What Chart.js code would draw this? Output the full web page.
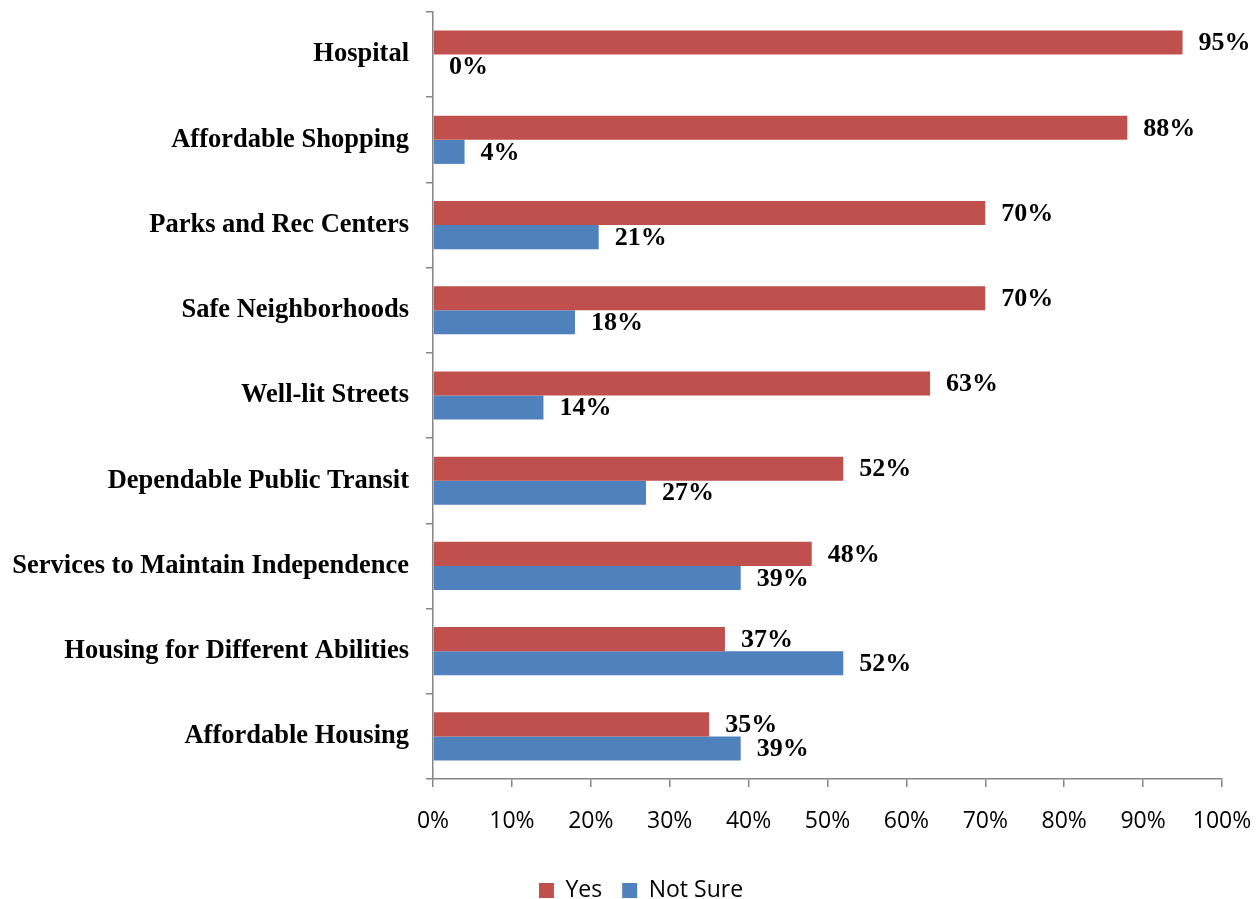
<!DOCTYPE html>
<html>
<head>
<meta charset="utf-8">
<script src="https://cdn.jsdelivr.net/npm/chart.js@4.4.0/dist/chart.umd.min.js"></script>
<style>
  html, body { margin: 0; padding: 0; background: #fff; }
  #wrap { width: 1259px; height: 899px; }
</style>
</head>
<body>
<div id="wrap"><canvas id="chart"></canvas></div>
<script>
// Chart values
const categories = [
    'Hospital',
    'Affordable Shopping',
    'Parks and Rec Centers',
    'Safe Neighborhoods',
    'Well-lit Streets',
    'Dependable Public Transit',
    'Services to Maintain Independence',
    'Housing for Different Abilities',
    'Affordable Housing'
];
const yesValues = [95, 88, 70, 70, 63, 52, 48, 37, 35];
const notSureValues = [0, 4, 21, 18, 14, 27, 39, 52, 39];
const seriesNames = ['Yes', 'Not Sure'];

const axisGray = '#868686';

// Draw the "NN%" labels just right of each bar end
const valueLabels = {
    id: 'valueLabels',
    afterDatasetsDraw(chart) {
        const ctx = chart.ctx;
        ctx.save();
        ctx.font = 'bold 26px "Liberation Serif"';
        ctx.fillStyle = '#000';
        ctx.textAlign = 'left';
        ctx.textBaseline = 'middle';
        chart.data.datasets.forEach((ds, i) => {
            chart.getDatasetMeta(i).data.forEach((bar, j) => {
                ctx.fillText(ds.data[j] + '%', bar.x + 16, bar.y + 1);
            });
        });
        ctx.restore();
    }
};

// Nudge the legend down / right to where the original has it
const legendShift = {
    id: 'legendShift',
    afterLayout(chart) {
        const lg = chart.legend;
        if (!lg) return;
        const dx = 30, dy = 13;
        lg.left += dx; lg.right += dx;
        lg.top += dy; lg.bottom += dy;
    }
};

const config = {
    type: 'bar',
    data: {
        labels: categories,
        datasets: [
            {
                label: seriesNames[0],
                data: yesValues,
                backgroundColor: '#C0504D',
                categoryPercentage: 0.565,
                barPercentage: 1.0
            },
            {
                label: seriesNames[1],
                data: notSureValues,
                backgroundColor: '#4F81BD',
                categoryPercentage: 0.565,
                barPercentage: 1.0
            }
        ]
    },
    options: {
        indexAxis: 'y',
        responsive: true,
        maintainAspectRatio: false,
        animation: false,
        layout: {
            padding: { top: 12, right: 37, bottom: 0, left: 0 }
        },
        scales: {
            x: {
                min: 0,
                max: 100,
                afterFit(scale) {
                    scale.height = 67;
                    scale.paddingLeft = 0;
                    scale.paddingRight = 0;
                },
                ticks: {
                    stepSize: 10,
                    padding: 21,
                    color: '#000',
                    font: { family: '"Open Sans"', size: 23 },
                    callback: v => v + '%'
                },
                grid: {
                    drawOnChartArea: false,
                    drawTicks: true,
                    tickLength: 8,
                    color: axisGray,
                    lineWidth: 1.5
                },
                border: { color: axisGray, width: 1.5 }
            },
            y: {
                afterFit(scale) {
                    scale.width = 433;
                    scale.paddingTop = 0;
                    scale.paddingBottom = 0;
                },
                ticks: {
                    padding: 17,
                    color: '#000',
                    font: { family: '"Liberation Serif"', size: 26.5, weight: 'bold' }
                },
                grid: {
                    drawOnChartArea: false,
                    drawTicks: true,
                    tickLength: 7,
                    color: axisGray,
                    lineWidth: 1.5
                },
                border: { color: axisGray, width: 1.5 }
            }
        },
        plugins: {
            legend: {
                position: 'bottom',
                labels: {
                    boxWidth: 15,
                    boxHeight: 15,
                    padding: 20,
                    color: '#000',
                    font: { family: '"Open Sans"', size: 23 }
                }
            },
            tooltip: { enabled: false }
        }
    },
    plugins: [valueLabels, legendShift]
};

new Chart(document.getElementById('chart'), config);
</script>
</body>
</html>
